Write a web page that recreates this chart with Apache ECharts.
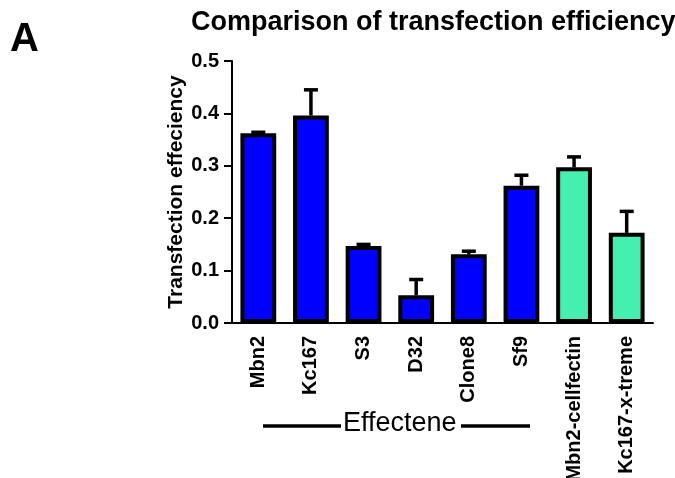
<!DOCTYPE html>
<html><head><meta charset="utf-8">
<script src="https://cdn.jsdelivr.net/npm/echarts@6/dist/echarts.min.js"></script>
<style>html,body{margin:0;padding:0;background:#fff}#c{width:675px;height:478px}</style>
</head><body><div id="c"></div>
<script>
const categories = ['Mbn2','Kc167','S3','D32','Clone8','Sf9','Mbn2-cellfectin','Kc167-x-treme'];
const means = [0.362, 0.396, 0.147, 0.053, 0.131, 0.262, 0.297, 0.172];
const errors = [0.002, 0.049, 0.003, 0.030, 0.006, 0.020, 0.020, 0.041];
const barColors = ['#0000FF','#0000FF','#0000FF','#0000FF','#0000FF','#0000FF','#45EFAF','#45EFAF'];
const yTicks = [0.0, 0.1, 0.2, 0.3, 0.4, 0.5];

const chart = echarts.init(document.getElementById('c'));
const F = 'Liberation Sans, Arial, sans-serif';
chart.setOption({
  animation: false,
  title: {
    text: 'Comparison of transfection efficiency',
    left: 186, top: 4,
    textStyle: {fontFamily: F, fontWeight: 'bold', fontSize: 27, color: '#000'}
  },
  grid: {left: 232, right: 22, top: 61, bottom: 155, containLabel: false, outerBoundsMode: 'none'},
  xAxis: {
    type: 'category', data: categories,
    axisLine: {lineStyle: {color: '#000', width: 2}},
    axisTick: {alignWithLabel: true, length: 6, lineStyle: {color: '#000', width: 2}},
    axisLabel: {rotate: 90, fontFamily: F, fontWeight: 'bold', fontSize: 20, color: '#000', margin: 13, interval: 0}
  },
  yAxis: {
    type: 'value', min: 0, max: 0.5, interval: 0.1,
    name: 'Transfection effeciency', nameLocation: 'middle', nameGap: 45, nameRotate: 90,
    nameMoveOverlap: false,
    nameTextStyle: {fontFamily: F, fontWeight: 'bold', fontSize: 21, color: '#000'},
    axisLine: {show: true, lineStyle: {color: '#000', width: 2}},
    axisTick: {show: true, length: 8, lineStyle: {color: '#000', width: 2}},
    splitLine: {show: false},
    axisLabel: {fontFamily: F, fontWeight: 'bold', fontSize: 20, color: '#000', margin: 13,
      formatter: v => yTicks.includes(Math.round(v*10)/10) ? v.toFixed(1) : ''}
  },
  series: [
    {
      type: 'bar', barWidth: '68%',
      data: means.map((v,i) => ({value: v, itemStyle: {color: barColors[i]}})),
      itemStyle: {borderColor: '#000', borderWidth: 4},
      z: 2
    },
    {
      type: 'custom', z: 3,
      data: means.map((v,i) => [i, v, v + errors[i]]),
      renderItem: function (params, api) {
        const x = api.value(0);
        const p0 = api.coord([x, api.value(1)]);
        const p1 = api.coord([x, api.value(2)]);
        const hw = 7;
        return {
          type: 'group',
          children: [
            {type: 'line', shape: {x1: p0[0], y1: p0[1], x2: p1[0], y2: p1[1]}, style: {stroke: '#000', lineWidth: 3.5}},
            {type: 'line', shape: {x1: p1[0]-hw, y1: p1[1], x2: p1[0]+hw, y2: p1[1]}, style: {stroke: '#000', lineWidth: 3.5}}
          ]
        };
      }
    }
  ],
  graphic: [
    {type: 'text', left: 10, top: 20, style: {text: 'A', fontFamily: F, fontWeight: 'bold', fontSize: 40, fill: '#000'}},
    {type: 'line', shape: {x1: 263, y1: 426, x2: 341, y2: 426}, style: {stroke: '#000', lineWidth: 3.5}},
    {type: 'line', shape: {x1: 461, y1: 426, x2: 530, y2: 426}, style: {stroke: '#000', lineWidth: 3.5}},
    {type: 'text', left: 343, top: 410, style: {text: 'Effectene', fontFamily: F, fontSize: 27, fill: '#000'}}
  ]
});
</script></body></html>
